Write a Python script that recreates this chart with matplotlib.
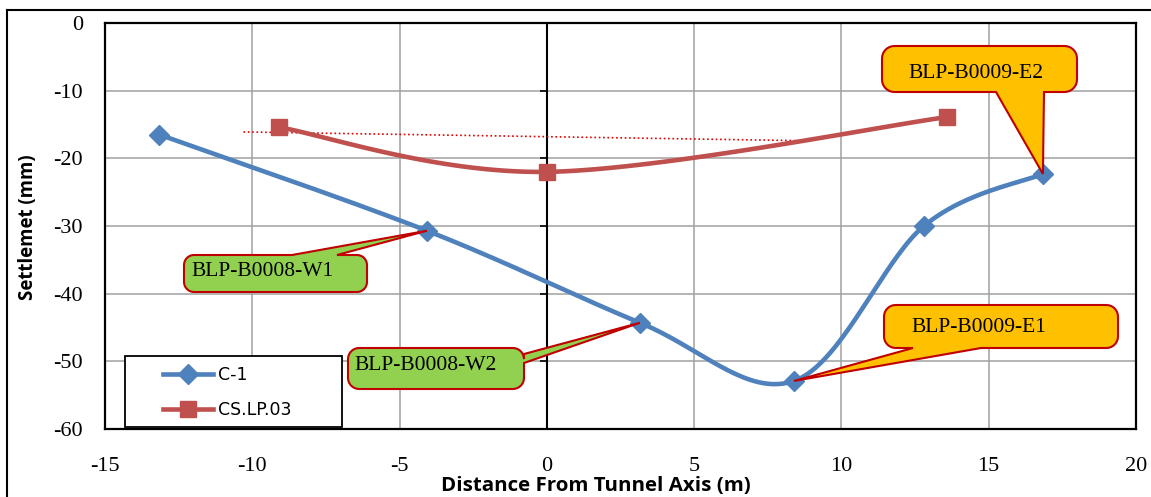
import numpy as np
import matplotlib
matplotlib.use("Agg")
import matplotlib.pyplot as plt
from matplotlib.patches import Polygon, Rectangle
from matplotlib.lines import Line2D

# ---------------- data ----------------
c1_x = [-13.15, -4.07, 3.16, 8.39, 12.8, 16.84]
c1_y = [-16.5, -30.7, -44.3, -52.9, -30.0, -22.3]
cs_x = [-9.1, 0.0, 13.58]
cs_y = [-15.4, -22.0, -13.9]
trend_x = [-10.3, 8.8]
trend_y = [-16.1, -17.4]
series_names = ["C-1", "CS.LP.03"]
callout_labels = ["BLP-B0008-W1", "BLP-B0008-W2", "BLP-B0009-E1", "BLP-B0009-E2"]
callout_point_index = [1, 2, 3, 5]   # index into C-1 points
x_ticks = [-15, -10, -5, 0, 5, 10, 15, 20]
y_ticks = [0, -10, -20, -30, -40, -50, -60]
x_label = "Distance From Tunnel Axis (m)"
y_label = "Settlemet (mm)"

W, H = 1151, 497
DPI = 100
fig = plt.figure(figsize=(W / DPI, H / DPI), dpi=DPI)

# plot area in image pixels
L, R, T, B = 105, 1136, 23, 429
ax = fig.add_axes([L / W, 1 - B / H, (R - L) / W, (B - T) / H])
ax.set_xlim(-15, 20)
ax.set_ylim(-60, 0)
ax.set_xticks(x_ticks)
ax.set_yticks(y_ticks)
ax.set_xticklabels([str(v) for v in x_ticks])
ax.set_yticklabels([str(v) for v in y_ticks])
ax.grid(True, color="#a0a0a0", lw=1.1)
ax.set_axisbelow(True)
for s in ax.spines.values():
    s.set_color("black")
    s.set_linewidth(1.6)
ax.tick_params(length=0, labelsize=16, pad=0)
for lab in ax.get_xticklabels() + ax.get_yticklabels():
    lab.set_family("Liberation Serif")
ax.tick_params(axis="x", pad=20)
ax.tick_params(axis="y", pad=16)

# vertical axis through x=0 with ticks
ax.axvline(0, color="black", lw=1.5, zorder=2)
ax.plot([0] * len(y_ticks), y_ticks, ls="none", marker=0, color="black",
        markersize=5, mew=1.2, zorder=2, clip_on=False)

fig.canvas.draw()


def smooth_display(xs, ys, n=40):
    pts = ax.transData.transform(np.column_stack([xs, ys]))
    P = np.vstack([pts[0], pts, pts[-1]])
    out = [pts[0]]
    t = np.linspace(0, 1, n)[1:]
    for i in range(1, len(P) - 2):
        p0, p1, p2, p3 = P[i - 1], P[i], P[i + 1], P[i + 2]
        c1 = p1 + (p2 - p0) / 6.0
        c2 = p2 - (p3 - p1) / 6.0
        seg = ((1 - t) ** 3)[:, None] * p1 + (3 * (1 - t) ** 2 * t)[:, None] * c1 \
            + (3 * (1 - t) * t ** 2)[:, None] * c2 + (t ** 3)[:, None] * p2
        out.extend(seg)
    out = np.array(out)
    return ax.transData.inverted().transform(out)


blue = "#4f81bd"
red = "#c0504d"
lw = 3.3

sc = smooth_display(c1_x, c1_y)
ax.plot(sc[:, 0], sc[:, 1], color=blue, lw=lw, zorder=4, solid_capstyle="round")
ax.plot(c1_x, c1_y, ls="none", marker="D", color=blue, markersize=10, zorder=5)
ss = smooth_display(cs_x, cs_y)
ax.plot(ss[:, 0], ss[:, 1], color=red, lw=lw, zorder=4, solid_capstyle="round")
ax.plot(cs_x, cs_y, ls="none", marker="s", color=red, markersize=11, zorder=5)
ax.plot(trend_x, trend_y, color="#e00000", lw=1.2, ls=(0, (1, 1.6)), zorder=3)

# legend frame (drawn separately to match the reference box size)
frame = Rectangle((125, H - 427), 342 - 125, 427 - 356, transform=None,
                  facecolor="white", edgecolor="black", lw=1.3, zorder=6,
                  clip_on=False)
ax.add_artist(frame)
handles = [Line2D([], [], color=blue, lw=lw, marker="D", markersize=10),
           Line2D([], [], color=red, lw=lw, marker="s", markersize=11)]
leg = ax.legend(handles, series_names, loc="upper left",
                bbox_to_anchor=((163 - L) / (R - L), (B - 366) / (B - T)),
                frameon=False,
                prop={"family": "DejaVu Sans", "size": 12.5},
                handlelength=2.9, handletextpad=0.25, borderpad=0.0,
                labelspacing=1.0, borderaxespad=0)
leg.set_zorder(7)


# callouts (pixel coordinates in image space: y downward)
def rounded_rect_pts(x0, y0, x1, y1, r, n=8):
    pts = []
    corners = [((x1 - r, y0 + r), -90, 0),
               ((x1 - r, y1 - r), 0, 90),
               ((x0 + r, y1 - r), 90, 180),
               ((x0 + r, y0 + r), 180, 270)]
    for (cx, cy), a0, a1 in corners:
        for a in np.linspace(np.radians(a0), np.radians(a1), n):
            pts.append((cx + r * np.cos(a), cy + r * np.sin(a)))
    return pts


def callout(box, base, side, tip_data, text, face, text_xy):
    x0, y0, x1, y1 = box
    r = 0.27 * (y1 - y0)
    tip = ax.transData.transform(tip_data)
    tip = (tip[0], H - tip[1])
    rr = rounded_rect_pts(x0, y0, x1, y1, r)
    top = [(x0 + r, y0), (x1 - r, y0)]
    if side == "top":
        top = [(x0 + r, y0), (base[0], y0), tip, (base[1], y0), (x1 - r, y0)]
    n = 8
    tr, br, bl, tl = rr[0:n], rr[n:2 * n], rr[2 * n:3 * n], rr[3 * n:4 * n]
    right = []
    if side == "right":
        right = [(x1, base[0]), tip, (x1, base[1])]
    bottom = []
    if side == "bottom":
        bottom = [(base[1], y1), tip, (base[0], y1)]
    outline = top + tr + right + br + bottom + bl + tl
    pts = np.array(outline, dtype=float)
    pts[:, 1] = H - pts[:, 1]
    poly = Polygon(pts, closed=True, transform=None, facecolor=face,
                   edgecolor="#c00000", lw=1.5, zorder=8)
    fig.add_artist(poly)
    fig.text(text_xy[0] / W, 1 - text_xy[1] / H, text, ha="center", va="center",
             family="Liberation Serif", fontsize=15.5, zorder=9)


green = "#92d050"
gold = "#ffc000"
i0, i1, i2, i3 = callout_point_index
callout((184, 255, 367, 292), (292, 337), "top", (c1_x[i0], c1_y[i0]),
        callout_labels[0], green, (262, 271))
callout((348, 348, 524, 389), (354, 363), "right", (c1_x[i1], c1_y[i1]),
        callout_labels[1], green, (426, 366))
callout((884, 305, 1118, 348), (913, 981), "bottom", (c1_x[i2], c1_y[i2]),
        callout_labels[2], gold, (979, 327))
callout((882, 46, 1077, 92), (996, 1044), "bottom", (c1_x[i3], c1_y[i3]),
        callout_labels[3], gold, (976, 73))

# axis titles, sized to reference extents
fig.canvas.draw()
renderer = fig.canvas.get_renderer()
xt = fig.text(596 / W, 1 - 486 / H, x_label, ha="center", va="center",
              family="Open Sans", weight="bold", fontsize=12)
w = xt.get_window_extent(renderer).width
xt.set_fontsize(12 * 308 / w)
yt = fig.text(28 / W, 1 - 227 / H, y_label, ha="center", va="center",
              rotation=90, family="Open Sans", weight="bold", fontsize=12)
h = yt.get_window_extent(renderer).height
yt.set_fontsize(12 * 145 / h)

# outer chart frame (left and top edges)
fig.add_artist(Line2D([7 / W, 7 / W], [0, 1 - 10 / H], transform=fig.transFigure,
                      color="black", lw=1.5))
fig.add_artist(Line2D([7 / W, 1], [1 - 10 / H, 1 - 10 / H], transform=fig.transFigure,
                      color="black", lw=1.5))

fig.savefig("out.png", dpi=DPI)
